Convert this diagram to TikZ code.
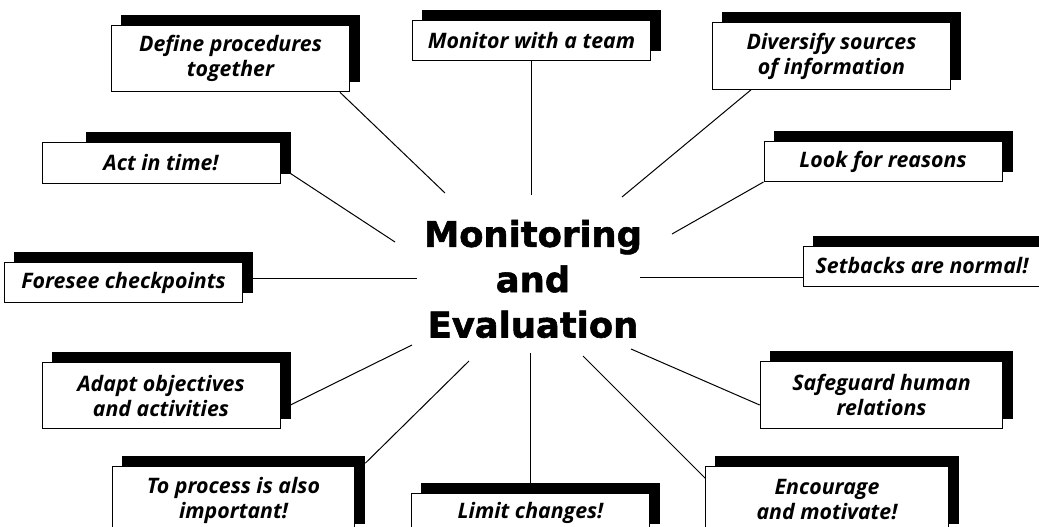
\documentclass[tikz,border=0pt]{standalone}
\usepackage{fontspec}
\setmainfont{Open Sans}
\newfontfamily\titlefont{DejaVu Sans}[BoldFeatures={FakeBold=1.6}]
\usetikzlibrary{positioning,calc,backgrounds}

\tikzset{
  tip/.style={draw=black, line width=0.75pt, fill=white, inner sep=0pt,
    minimum width=178.5pt, minimum height=30pt, align=center,
    font=\fontsize{16}{18.75}\selectfont\bfseries\itshape},
  tiptwo/.style={tip, minimum height=50pt},
  spoke/.style={black, line width=0.75pt}
}

\begin{document}
\begin{tikzpicture}[x=0.75pt,y=0.75pt]
        \useasboundingbox (0,0) rectangle (1039,526);

        \node[font=\titlefont\fontsize{26.5}{34}\selectfont\bfseries, align=center] (me) at (533,247) {Monitoring\\and\\Evaluation};

        \node[tiptwo] (procedures) at (230.5,467.5) {Define procedures\\together};
        \node[tip] (team) at (531.5,485) {Monitor with a team};
        \node[tiptwo] (sources) at (831.5,470) {Diversify sources\\of information};
        \node[tip] (act) at (161,363) {Act in time!};
        \node[tip] (reasons) at (883,364.5) {Look for reasons};
        \node[tip] (checkpoints) at (123.5,243.5) {Foresee checkpoints};
        \node[tip] (setbacks) at (922,260) {Setbacks are normal!};
        \node[tiptwo] (adapt) at (161,130.5) {Adapt objectives\\and activities};
        \node[tiptwo, minimum width=182pt] (relations) at (881.5,131) {Safeguard human\\relations};
        \node[tiptwo, minimum width=182pt] (process) at (233.5,26) {To process is also\\important!};
        \node[tip] (changes) at (530.5,13) {Limit changes!};
        \node[tiptwo, minimum width=182pt] (motivate) at (827,26) {Encourage\\and motivate!};

        \coordinate (e1) at (445,333);
        \coordinate (e2) at (531.5,331);
        \coordinate (e3) at (622,329);
        \coordinate (e4) at (395,284);
        \coordinate (e5) at (672,292);
        \coordinate (e6) at (417,248);
        \coordinate (e7) at (640,249);
        \coordinate (e8) at (412,181);
        \coordinate (e9) at (631,177);
        \coordinate (e10) at (469,165);
        \coordinate (e11) at (530.5,173);
        \coordinate (e12) at (583,170);

        \begin{scope}[on background layer]
        \fill[white] (0,0) rectangle (1039,526);
        \draw[spoke] (e1) -- ($(procedures.south east)+(-10,0)$);
        \draw[spoke] (e2) -- (team.south);
        \draw[spoke] (e3) -- ($(sources.south west)+(39,0)$);
        \draw[spoke] (e4) -- ($(act.south east)+(10,10)$);
        \draw[spoke] (e5) -- (reasons.south west);
        \draw[spoke] (e6) -- (e6 -| checkpoints.east);
        \draw[spoke] (e7) -- (e7 -| setbacks.west);
        \draw[spoke] (e8) -- ($(adapt.east)+(10,-9.5)$);
        \draw[spoke] (e9) -- ($(relations.west)+(0,-10)$);
        \draw[spoke] (e10) -- ($(process.north east)+(10,3)$);
        \draw[spoke] (e11) -- (changes.north);
        \draw[spoke] (e12) -- ($(motivate.north west)+(0,-12)$);
        \foreach \n/\l in {procedures/10,team/10,sources/10,act/44,reasons/10,checkpoints/10,setbacks/10,adapt/10,relations/10,process/10,changes/10,motivate/10}
          \fill[black] ($(\n.south west)+(\l,10)$) rectangle ($(\n.north east)+(10,10)$);
        \end{scope}
        \end{tikzpicture}
\end{document}
